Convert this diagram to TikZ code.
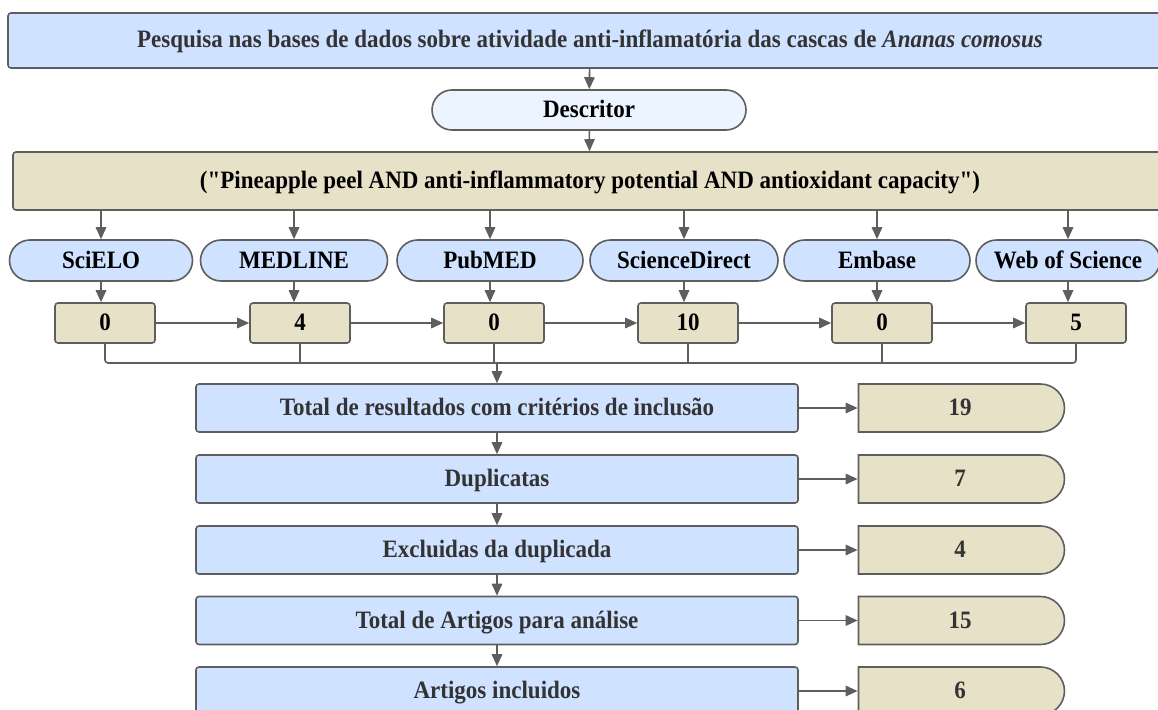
\documentclass[tikz,border=0pt]{standalone}
\usepackage{fontspec}
\setmainfont{Liberation Serif}[Ligatures=TeXOff, FakeStretch=0.92]
\usetikzlibrary{arrows.meta,shapes.misc}

\definecolor{boxblue}{HTML}{CFE2FF}
\definecolor{paleblue}{HTML}{EBF4FF}
\definecolor{boxtan}{HTML}{E7E1C8}
\definecolor{edgegray}{HTML}{5E5E5E}
\definecolor{textgray}{HTML}{333333}

\tikzset{
  box/.style={draw=edgegray, line width=1.6pt, inner sep=0pt, align=center,
    text height=19pt, text depth=4pt,
    font=\fontsize{25}{29}\selectfont\bfseries},
  bluebox/.style={box, fill=boxblue, rounded corners=3pt, text=textgray,
    minimum width=602pt, minimum height=48pt},
  tanbox/.style={box, fill=boxtan, rounded corners=3pt},
  dbbox/.style={box, rounded rectangle, fill=boxblue, minimum height=41pt},
  countbox/.style={tanbox, minimum width=100pt, minimum height=40pt},
  resultbox/.style={box, rounded rectangle, rounded rectangle left arc=none,
    fill=boxtan, text=textgray, minimum width=206pt, minimum height=48pt},
  link/.style={draw=edgegray, line width=1.6pt},
  conn/.style={link, -{Triangle[length=12pt,width=10.5pt]}}
}

\begin{document}
\begin{tikzpicture}[x=1pt, y=-1pt]
    \useasboundingbox (0,0) rectangle (1158,709);

    % Search and descriptor
    \node[box, fill=boxblue, rounded corners=3pt, text=textgray,
      minimum width=1164pt, minimum height=55pt] (search) at (590,40.5)
      {Pesquisa nas bases de dados sobre atividade anti-inflamatória das cascas de \textit{Ananas comosus}};
    \node[box, rounded rectangle, fill=paleblue, minimum width=314pt,
      minimum height=40pt] (descr) at (589,110) {Descritor};
    \node[tanbox, minimum width=1154pt, minimum height=58pt] (query) at (590,181)
      {("Pineapple peel AND anti-inflammatory potential AND antioxidant capacity")};

    % Databases
    \node[dbbox, minimum width=183pt] (scielo) at (101,260.5) {SciELO};
    \node[dbbox, minimum width=187pt] (medline) at (294,260.5) {MEDLINE};
    \node[dbbox, minimum width=186pt] (pubmed) at (490,260.5) {PubMED};
    \node[dbbox, minimum width=188pt] (scidir) at (684,260.5) {ScienceDirect};
    \node[dbbox, minimum width=186pt] (embase) at (877,260.5) {Embase};
    \node[dbbox, minimum width=184pt] (wos) at (1068,260.5) {Web of Science};

    % Counts per database
    \node[countbox] (n1) at (105,323) {0};
    \node[countbox] (n2) at (300,323) {4};
    \node[countbox] (n3) at (494,323) {0};
    \node[countbox] (n4) at (688,323) {10};
    \node[countbox] (n5) at (882,323) {0};
    \node[countbox] (n6) at (1076,323) {5};

    % Screening steps
    \node[bluebox] (total) at (497,408) {Total de resultados com critérios de inclusão};
    \node[bluebox] (dupl) at (497,479) {Duplicatas};
    \node[bluebox] (excl) at (497,550) {Excluidas da duplicada};
    \node[bluebox] (analise) at (497,620.5) {Total de Artigos para análise};
    \node[bluebox] (incl) at (497,691) {Artigos incluidos};

    % Results
    \node[resultbox] (r1) at (960,408) {19};
    \node[resultbox] (r2) at (960,479) {7};
    \node[resultbox] (r3) at (960,550) {4};
    \node[resultbox] (r4) at (960,620.5) {15};
    \node[resultbox] (r5) at (960,691) {6};

    \coordinate (bus) at (497,363);

    % Draw arrows
    \draw[conn] (search) -- (descr);
    \draw[conn] (descr) -- (query);
    \draw[conn] (scielo |- query.south) -- (scielo);
    \draw[conn] (medline |- query.south) -- (medline);
    \draw[conn] (pubmed |- query.south) -- (pubmed);
    \draw[conn] (scidir |- query.south) -- (scidir);
    \draw[conn] (embase |- query.south) -- (embase);
    \draw[conn] (wos |- query.south) -- (wos);

    \draw[conn] (scielo) -- (scielo |- n1.north);
    \draw[conn] (medline) -- (medline |- n2.north);
    \draw[conn] (pubmed) -- (pubmed |- n3.north);
    \draw[conn] (scidir) -- (scidir |- n4.north);
    \draw[conn] (embase) -- (embase |- n5.north);
    \draw[conn] (wos) -- (wos |- n6.north);

    \draw[conn] (n1) -- (n2);
    \draw[conn] (n2) -- (n3);
    \draw[conn] (n3) -- (n4);
    \draw[conn] (n4) -- (n5);
    \draw[conn] (n5) -- (n6);

    % Collect the counts
    \draw[link, rounded corners=3pt] (n1.south) |- (n6.south |- bus) -- (n6.south);
    \draw[link] (n2.south) -- (n2.south |- bus);
    \draw[link] (n3.south) -- (n3.south |- bus);
    \draw[link] (n4.south) -- (n4.south |- bus);
    \draw[link] (n5.south) -- (n5.south |- bus);
    \draw[conn] (bus) -- (total);

    \draw[conn] (total) -- (dupl);
    \draw[conn] (dupl) -- (excl);
    \draw[conn] (excl) -- (analise);
    \draw[conn] (analise) -- (incl);

    \draw[conn] (total) -- (r1);
    \draw[conn] (dupl) -- (r2);
    \draw[conn] (excl) -- (r3);
    \draw[conn] (analise) -- (r4);
    \draw[conn] (incl) -- (r5);
\end{tikzpicture}
\end{document}
